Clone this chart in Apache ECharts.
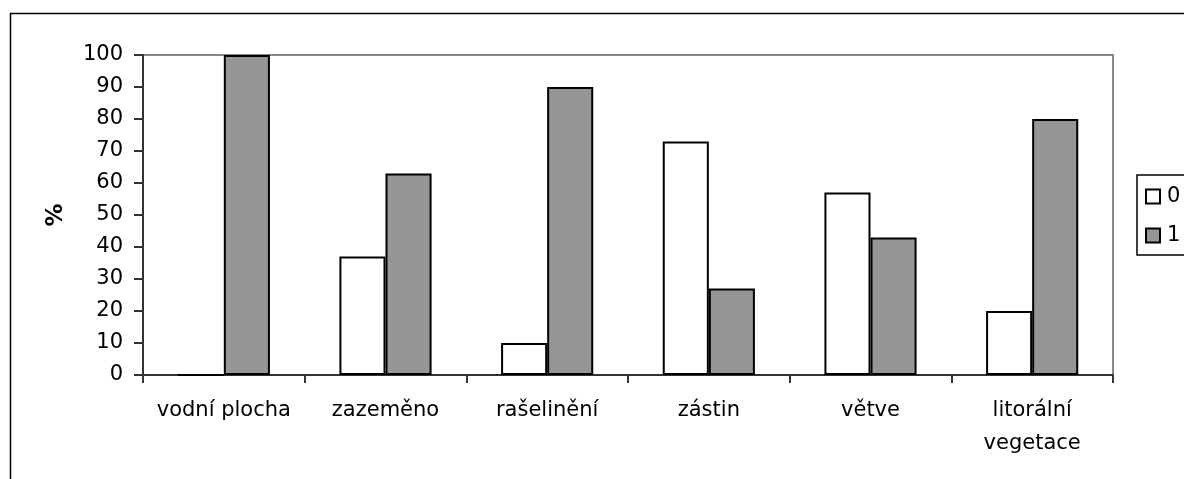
<!DOCTYPE html>
<html>
<head>
<meta charset="utf-8">
<title>vodní plocha – vegetace</title>
<script src="https://cdn.jsdelivr.net/npm/echarts@6/dist/echarts.min.js"></script>
<style>
  html, body { margin: 0; padding: 0; background: #fff; }
  #chart { width: 1184px; height: 479px; }
</style>
</head>
<body>
<div id="chart"></div>
<script>
// Habitat categories and share (%) of sites without (0) and with (1) the feature
const categories = ['vodní plocha', 'zazeměno', 'rašelinění', 'zástin', 'větve', 'litorální\nvegetace'];
const series0 = [0, 37, 10, 73, 57, 20];
const series1 = [100, 63, 90, 27, 43, 80];
const seriesNames = ['0', '1'];
const yTicks = { min: 0, max: 100, interval: 10 };

const FONT = 'DejaVu Sans';
const chart = echarts.init(document.getElementById('chart'), null, { renderer: 'canvas' });

chart.setOption({
  animation: false,
  backgroundColor: '#fff',
  textStyle: { fontFamily: FONT, color: '#000' },
  graphic: [{
    type: 'rect',
    silent: true,
    shape: { x: 10.5, y: 13.5, width: 1400, height: 700 },
    style: { fill: 'none', stroke: '#000', lineWidth: 1.5 }
  }],
  grid: {
    left: 143, right: 71, top: 55, bottom: 104,
    show: true, borderColor: '#888', borderWidth: 2, backgroundColor: 'transparent'
  },
  legend: {
    orient: 'vertical',
    left: 1137, top: 175,
    padding: [11, 60, 9, 8],
    itemWidth: 14, itemHeight: 14, itemGap: 18,
    icon: 'rect',
    borderColor: '#000', borderWidth: 1.5,
    textStyle: { fontFamily: FONT, fontSize: 21, color: '#000', padding: [0, 0, 0, 2] },
    data: seriesNames
  },
  xAxis: {
    type: 'category',
    data: categories,
    boundaryGap: true,
    axisLine: { lineStyle: { color: '#333', width: 2 } },
    axisTick: { show: true, length: 8, lineStyle: { color: '#333', width: 2 } },
    axisLabel: { fontFamily: FONT, fontSize: 21, color: '#000', lineHeight: 33, margin: 19, interval: 0 }
  },
  yAxis: {
    type: 'value',
    min: yTicks.min, max: yTicks.max, interval: yTicks.interval,
    name: '%',
    nameLocation: 'middle',
    nameRotate: 90,
    nameGap: 75,
    nameTextStyle: { fontFamily: FONT, fontSize: 23, fontWeight: 'bold', color: '#000' },
    axisLine: { show: true, lineStyle: { color: '#333', width: 2 } },
    axisTick: { show: true, length: 9, lineStyle: { color: '#333', width: 2 } },
    axisLabel: { fontFamily: FONT, fontSize: 21, color: '#000', margin: 20 },
    splitLine: { show: false }
  },
  series: [
    {
      name: seriesNames[0], type: 'bar', data: series0,
      barGap: '0%', barCategoryGap: '43%',
      itemStyle: { color: '#fff', borderColor: '#000', borderWidth: 2 }
    },
    {
      name: seriesNames[1], type: 'bar', data: series1,
      barGap: '0%', barCategoryGap: '43%',
      itemStyle: { color: '#969696', borderColor: '#000', borderWidth: 2 }
    }
  ]
});
</script>
</body>
</html>
